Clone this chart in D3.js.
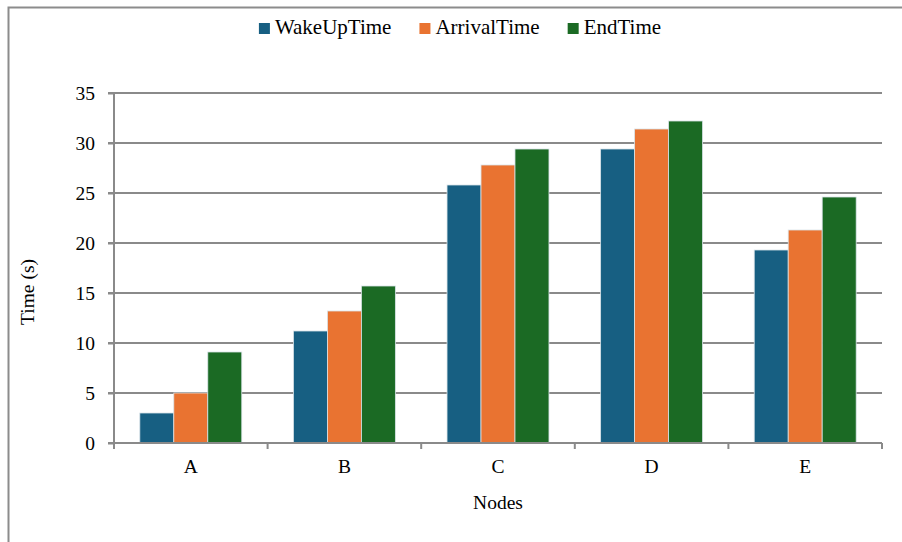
<!DOCTYPE html>
<html>
<head>
<meta charset="utf-8">
<script src="https://cdn.jsdelivr.net/npm/d3@7/dist/d3.min.js"></script>
<style>
  html, body { margin: 0; padding: 0; background: #fff; }
</style>
</head>
<body>
<svg id="chart" width="902" height="542"></svg>
<script>
const categories = ["A", "B", "C", "D", "E"];
const seriesNames = ["WakeUpTime", "ArrivalTime", "EndTime"];
const wakeUpTime = [3.0, 11.2, 25.8, 29.4, 19.3];
const arrivalTime = [5.0, 13.2, 27.8, 31.4, 21.3];
const endTime = [9.1, 15.7, 29.4, 32.2, 24.6];
const yTicks = [0, 5, 10, 15, 20, 25, 30, 35];
const colors = ["#175f82", "#e97331", "#1b6a24"];

const seriesValues = [wakeUpTime, arrivalTime, endTime];
const FONT = "'Liberation Serif', 'Times New Roman', Times, serif";
const svg = d3.select("#chart");

// outer frame
svg.append("rect").attr("x", 8.5).attr("y", 7.5).attr("width", 1000).attr("height", 1000)
  .attr("fill", "none").attr("stroke", "#8c8c8c").attr("stroke-width", 2);

const pLeft = 114, pRight = 882, pTop = 93, pBottom = 443;
const x = d3.scaleBand().domain(categories).range([pLeft, pRight]).paddingInner(0).paddingOuter(0);
const xs = d3.scaleBand().domain(seriesNames).range([0, x.bandwidth()]).paddingInner(0).paddingOuter(0.76);
const y = d3.scaleLinear().domain([0, 35]).range([pBottom, pTop]);

const gridColor = "#8a8a8a";

// gridlines
svg.append("g").selectAll("line").data(yTicks.filter(d => d > 0)).join("line")
  .attr("x1", pLeft - 6).attr("x2", pRight)
  .attr("y1", d => y(d)).attr("y2", d => y(d))
  .attr("stroke", gridColor).attr("stroke-width", 2);

// bars
const groups = svg.append("g").selectAll("g").data(categories).join("g")
  .attr("transform", d => `translate(${x(d)},0)`);
groups.selectAll("rect").data((c, i) => seriesNames.map((s, j) => ({ s, j, v: seriesValues[j][i] })))
  .join("rect")
  .attr("x", d => xs(d.s)).attr("width", xs.bandwidth())
  .attr("y", d => y(d.v)).attr("height", d => y(0) - y(d.v))
  .attr("fill", d => colors[d.j])
  .attr("stroke", "#d9e3e8").attr("stroke-width", 0.8);

// y axis
const yAxis = d3.axisLeft(y).tickValues(yTicks).tickSize(6).tickPadding(13).tickFormat(d3.format("d"));
const gy = svg.append("g").attr("transform", `translate(${pLeft},0)`).call(yAxis)
  .attr("font-family", null).attr("font-size", null);
gy.select(".domain").remove();
gy.selectAll(".tick line").attr("stroke", gridColor).attr("stroke-width", 2);
gy.selectAll(".tick text").style("font-family", FONT).style("font-size", "19.5px").attr("fill", "#000").attr("dy", "0.34em");
svg.append("line").attr("x1", pLeft).attr("x2", pLeft).attr("y1", pTop).attr("y2", pBottom + 6)
  .attr("stroke", gridColor).attr("stroke-width", 2);

// x axis
svg.append("line").attr("x1", pLeft - 6).attr("x2", pRight).attr("y1", pBottom).attr("y2", pBottom)
  .attr("stroke", gridColor).attr("stroke-width", 2);
const xAxis = d3.axisBottom(x).tickSize(0).tickPadding(16);
const gx = svg.append("g").attr("transform", `translate(0,${pBottom})`).call(xAxis)
  .attr("font-family", null).attr("font-size", null);
gx.select(".domain").remove();
gx.selectAll(".tick text").style("font-family", FONT).style("font-size", "19.5px").attr("fill", "#000");
// category boundary ticks
const boundaries = categories.map(c => x(c)).concat([pRight]);
svg.append("g").selectAll("line").data(boundaries).join("line")
  .attr("x1", d => d).attr("x2", d => d).attr("y1", pBottom).attr("y2", pBottom + 6)
  .attr("stroke", gridColor).attr("stroke-width", 2);

// axis titles
svg.append("text").attr("x", (pLeft + pRight) / 2).attr("y", 509).attr("text-anchor", "middle")
  .style("font-family", FONT).style("font-size", "19.5px").text("Nodes");
svg.append("text").attr("transform", "translate(34,292) rotate(-90)").attr("text-anchor", "middle")
  .style("font-family", FONT).style("font-size", "19.5px").text("Time (s)");

// legend
const legend = svg.append("g");
let cursor = 0;
seriesNames.forEach((s, i) => {
  const g = legend.append("g");
  g.append("rect").attr("x", 0).attr("y", -11).attr("width", 11).attr("height", 11).attr("fill", colors[i]);
  const t = g.append("text").attr("x", 16).attr("y", 0)
    .style("font-family", FONT).style("font-size", "21px").text(s);
  const w = t.node().getComputedTextLength();
  g.attr("transform", `translate(${cursor},0)`);
  cursor += 16 + w + 28;
});
const totalW = cursor - 28;
legend.attr("transform", `translate(${460 - totalW / 2},34)`);
</script>
</body>
</html>
